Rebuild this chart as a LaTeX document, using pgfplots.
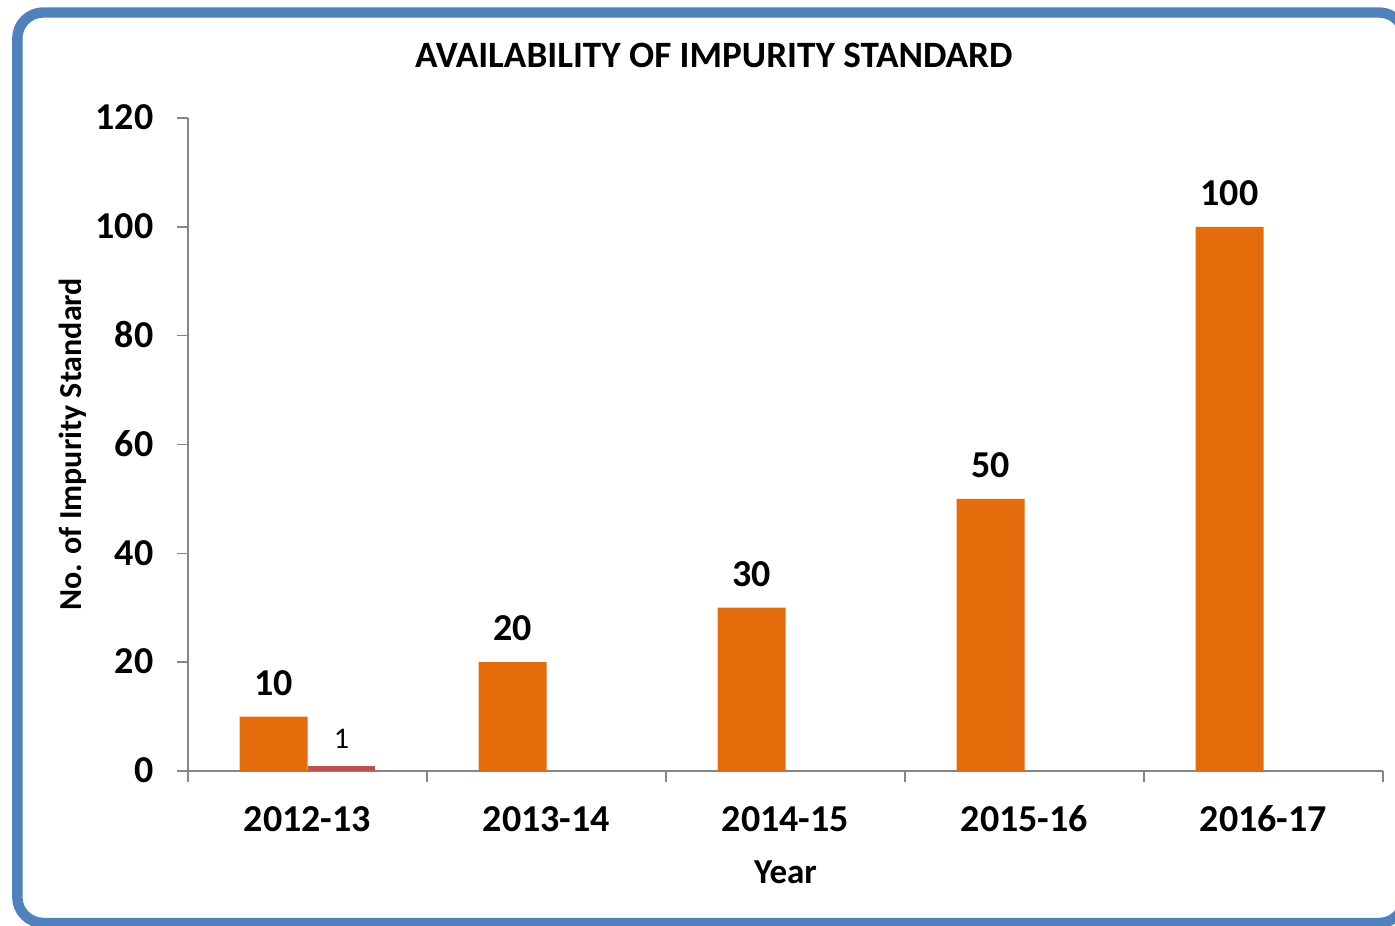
\documentclass[border=0pt]{standalone}
\usepackage{pgfplots}
\pgfplotsset{compat=1.18}
\usepackage{fontspec}
\setmainfont{Carlito}
\definecolor{barorange}{HTML}{E46C0A}
\definecolor{barred}{HTML}{C0504D}
\definecolor{frameblue}{HTML}{4F81BD}
\definecolor{axisgray}{HTML}{868686}
\begin{document}
\begin{tikzpicture}[x=0.5pt,y=0.5pt]
\useasboundingbox (0,0) rectangle (1395,925);
\clip (0,0) rectangle (1395,925);
\draw[line width=5.2pt, frameblue, rounded corners=13pt] (17.3,2) rectangle (1405,912.5);
\begin{axis}[
  at={(94pt,77pt)}, anchor=south west,
  scale only axis, width=597.5pt, height=326.5pt,
  xmin=-0.5, xmax=4.5, ymin=0, ymax=120,
  axis x line*=bottom, axis y line*=left,
  axis line style={axisgray, line width=0.8pt},
  every tick/.style={axisgray, line width=0.8pt},
  tick align=outside,
  major tick length=5.3pt,
  xtick={-0.5,0.5,1.5,2.5,3.5,4.5},
  x tick label as interval,
  xticklabels={2012-13,2013-14,2014-15,2015-16,2016-17},
  ytick={0,20,...,120},
  /pgf/number format/assume math mode=true,
  ticklabel style={font=\bfseries\fontsize{19}{22}\selectfont},
  typeset ticklabels with strut,
  yticklabel style={xshift=-8.5pt, yshift=-1.5pt},
  xticklabel style={yshift=-6pt},
  title={AVAILABILITY OF IMPURITY STANDARD},
  title style={at={(0.44,1.077)}, anchor=center, font=\bfseries\fontsize{18.6}{22}\selectfont},
  xlabel={Year},
  xlabel style={at={(0.5,-0.1547)}, anchor=center, font=\bfseries\fontsize{17.5}{20}\selectfont},
  ylabel={No. of Impurity Standard},
  ylabel style={at={(-0.0967,0.5)}, anchor=center, font=\bfseries\fontsize{16}{19}\selectfont},
  ybar, bar width=0.2845,
  clip=false,
]
\addplot[fill=barorange, draw=none, bar shift=-0.14225,
  nodes near coords, nodes near coords style={font=\bfseries\fontsize{19}{22}\selectfont, text=black, yshift=7pt}]
  coordinates {(0,10) (1,20) (2,30) (3,50) (4,100)};
\addplot[fill=barred, draw=none, bar shift=0.14225,
  nodes near coords, nodes near coords style={font=\fontsize{15}{18}\selectfont, text=black, yshift=5pt}]
  coordinates {(0,1)};
\end{axis}
\end{tikzpicture}
\end{document}
